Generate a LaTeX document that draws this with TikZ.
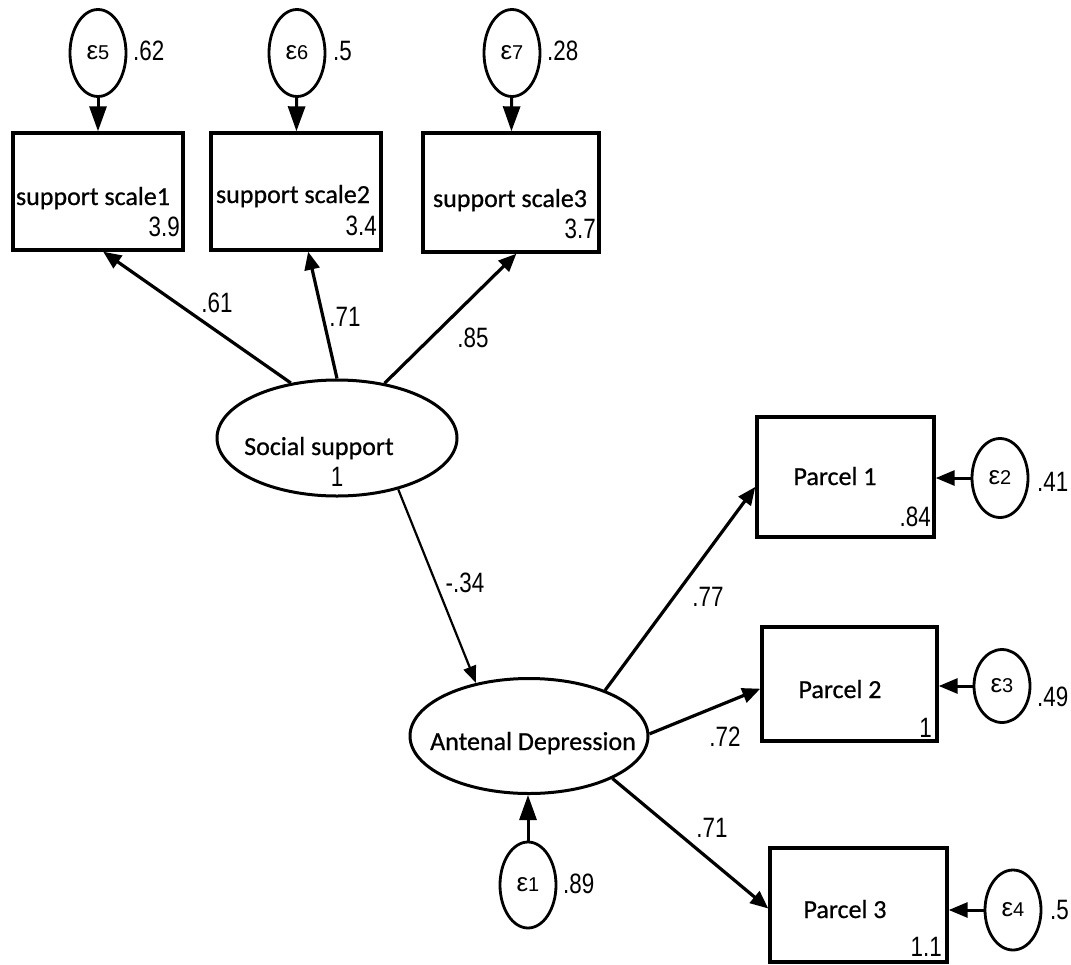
\documentclass[tikz,border=0pt]{standalone}
\usepackage{fontspec}
\usepackage{graphicx}
\setmainfont{Liberation Sans}
\newfontfamily\labfont[FakeBold=0.7]{Carlito}
\usetikzlibrary{arrows.meta,shapes.geometric,calc}

% condensed numbers and error-term labels
\newcommand\nr[1]{\scalebox{0.8}[1]{#1}}
\newcommand\eps[1]{{\fontsize{26}{26}\selectfont ε}{\fontsize{20}{20}\selectfont #1}}

\tikzset{
  obs/.style={draw, line width=3.4pt, rectangle, inner sep=0pt},
  latent/.style={draw, line width=3pt, ellipse, inner sep=0pt},
  err/.style={draw, line width=2.8pt, ellipse, inner sep=0pt, minimum width=56pt},
  loading/.style={line width=3.2pt, -{Triangle[length=18pt,width=15pt]}},
  thinpath/.style={line width=2.2pt, -{Triangle[length=17pt,width=13pt]}},
  errpath/.style={line width=3pt, -{Triangle[length=25pt,width=17pt]}},
  sidepath/.style={line width=3pt, -{Triangle[length=19pt,width=15pt]}},
  vname/.style={font=\labfont\fontsize{26}{26}\selectfont, inner sep=0pt, anchor=base},
  num/.style={font=\fontsize{28}{28}\selectfont, inner sep=0pt},
}

\begin{document}
\begin{tikzpicture}[x=1pt,y=-1pt]
\useasboundingbox (0,0) rectangle (1071,964);

% observed indicators of social support
\node[obs, minimum width=170pt, minimum height=117pt] (b1) at (98,191.5) {};
\node[obs, minimum width=170pt, minimum height=117pt] (b2) at (296,191.5) {};
\node[obs, minimum width=176pt, minimum height=119pt] (b3) at (511,192.5) {};
\node[vname] (t1) at (93,205) {support scale1};
\node[vname] (t2) at (293,203) {support scale2};
\node[vname] (t3) at (510,207) {support scale3};
\node[num, anchor=base east] (m1) at (180,236) {\nr{3.9}};
\node[num, anchor=base east] (m2) at (377,235) {\nr{3.4}};
\node[num, anchor=base east] (m3) at (596,238) {\nr{3.7}};

% their error terms
\node[err, minimum height=87pt] (e5) at (98,53) {\eps{5}};
\node[err, minimum height=87pt] (e6) at (297,53) {\eps{6}};
\node[err, minimum height=87pt] (e7) at (512,53) {\eps{7}};
\node[num, anchor=base west] (v5) at (133,60) {\nr{.62}};
\node[num, anchor=base west] (v6) at (333,60) {\nr{.5}};
\node[num, anchor=base west] (v7) at (547,60) {\nr{.28}};

% latent variables
\node[latent, minimum width=240pt, minimum height=116pt] (ss) at (337,438) {};
\node[vname] (tss) at (319,455) {Social support};
\node[num] (vss) at (337,477) {\nr{1}};
\node[latent, minimum width=238pt, minimum height=115pt] (ad) at (529,736) {};
\node[vname] (tad) at (533,750) {Antenal Depression};

% disturbance of depression
\node[err, minimum height=86pt] (e1) at (528,885) {\eps{1}};
\node[num, anchor=base west] (v1) at (563,893) {\nr{.89}};

% parcels
\node[obs, minimum width=177pt, minimum height=120pt] (p1) at (845.5,477) {};
\node[obs, minimum width=175pt, minimum height=114pt] (p2) at (849.5,684) {};
\node[obs, minimum width=177pt, minimum height=114pt] (p3) at (858.5,905) {};
\node[vname] (tp1) at (835,485) {Parcel 1};
\node[vname] (tp2) at (840,698) {Parcel 2};
\node[vname] (tp3) at (845,918) {Parcel 3};
\node[num, anchor=base east] (mp1) at (931,526) {\nr{.84}};
\node[num, anchor=base east] (mp2) at (932,737) {\nr{1}};
\node[num, anchor=base east] (mp3) at (942,956) {\nr{1.1}};

% parcel error terms
\node[err, minimum height=79pt] (e2) at (1000,478) {\eps{2}};
\node[err, minimum height=73pt] (e3) at (1002,686) {\eps{3}};
\node[err, minimum height=80pt] (e4) at (1013,910) {\eps{4}};
\node[num, anchor=base west] (v2) at (1037,491) {\nr{.41}};
\node[num, anchor=base west] (v3) at (1037,706) {\nr{.49}};
\node[num, anchor=base west] (v4) at (1050,919) {\nr{.5}};

% loadings of social support
\draw[loading] (ss.130) -- ($(b1.south west)!0.53!(b1.south east)$);
\draw[loading] (ss.90) -- ($(b2.south west)!0.57!(b2.south east)$);
\draw[loading] (ss.49) -- ($(b3.south west)!0.53!(b3.south east)$);
\node[num] (l1) at (217,303) {\nr{.61}};
\node[num] (l2) at (345,317) {\nr{.71}};
\node[num] (l3) at (473,338) {\nr{.85}};

% structural path
\draw[thinpath] (ss.-40) -- (ad.135);
\node[num] (l4) at (465,583) {\nr{-.34}};

% loadings of depression
\draw[loading] (ad.31) -- ($(p1.north west)!0.58!(p1.south west)$);
\draw[loading] (ad.1) -- ($(p2.north west)!0.54!(p2.south west)$);
\draw[loading] (ad.-27) -- ($(p3.north west)!0.53!(p3.south west)$);
\node[num] (l5) at (708,597) {\nr{.77}};
\node[num] (l6) at (725,737) {\nr{.72}};
\node[num] (l7) at (712,828) {\nr{.71}};

% error paths
\draw[errpath] (e5) -- (b1);
\draw[errpath] (e6) -- (b2);
\draw[errpath] (e7) -- (b3);
\draw[errpath] (e1.north) -- (e1.north |- ad.south);
\draw[sidepath] (e2.west) -- (e2.west -| p1.east);
\draw[sidepath] (e3.west) -- (e3.west -| p2.east);
\draw[sidepath] (e4.west) -- (e4.west -| p3.east);
\end{tikzpicture}
\end{document}
